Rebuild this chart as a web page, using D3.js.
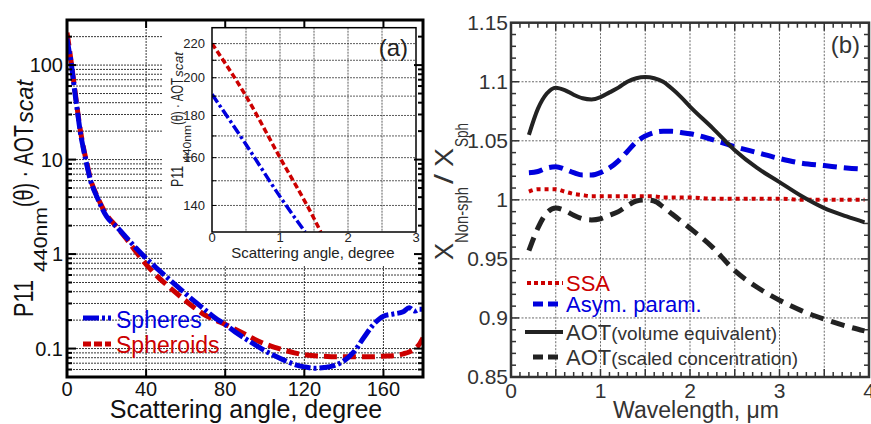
<!DOCTYPE html>
<html><head><meta charset="utf-8">
<script src="https://cdn.jsdelivr.net/npm/d3@7"></script>
<style>body{margin:0;background:#fff}svg{display:block;font-family:Arial,"Liberation Sans",sans-serif}</style>
</head><body><svg id="c" width="871" height="424"></svg>
<script>
// ---------- Panel (a) data ----------
const angles    = [0,1,2,3,4,5,6,7,8,10,12,15,20,25,30,35,40,45,50,55,60,65,70,75,80,85,90,95,100,105,110,115,120,125,130,135,140,145,150,155,160,165,170,173,176,178,180];
const spheres   = [191,143,110,75,51,36,25,18,14,8.8,5.9,4.1,2.5,1.95,1.5,1.15,0.9,0.72,0.58,0.47,0.38,0.31,0.255,0.21,0.18,0.15,0.128,0.11,0.095,0.084,0.075,0.068,0.064,0.062,0.063,0.066,0.074,0.092,0.13,0.18,0.22,0.232,0.245,0.27,0.25,0.26,0.26];
const spheroids = [220,160,112,78,54,37,26,19,14.5,9.2,6.1,4.2,2.6,1.95,1.45,1.05,0.78,0.6,0.48,0.39,0.32,0.265,0.225,0.2,0.18,0.16,0.142,0.125,0.112,0.103,0.096,0.09,0.086,0.084,0.083,0.082,0.082,0.082,0.082,0.082,0.083,0.084,0.088,0.092,0.1,0.11,0.13];
const xTicksA = [0,40,80,120,160];
const yTicksA = [0.1,1,10,100];
const yTickLabelsA = ["0.1","1","10","100"];
// inset
const insetAnglesSpheroids = [0,0.5,1,1.5,1.6];
const insetSpheroids       = [220,190,160,135,130];
const insetAnglesSpheres   = [0,0.5,1,1.37];
const insetSpheres         = [191,166,143.5,130];
const insetXTicks = [0,1,2,3];
const insetYTicks = [140,160,180,200,220];
const legendA = ["Spheres","Spheroids"];

// ---------- Panel (b) data ----------
const wavelength = [0.2,0.3,0.4,0.5,0.6,0.7,0.8,0.9,1.0,1.1,1.2,1.3,1.4,1.5,1.6,1.7,1.8,1.9,2.0,2.25,2.5,2.75,3.0,3.25,3.5,3.75,3.95];
const ssa       = [1.007,1.009,1.009,1.009,1.007,1.005,1.004,1.003,1.003,1.003,1.003,1.003,1.003,1.003,1.003,1.002,1.002,1.002,1.002,1.001,1.001,1.001,1.001,1.0,1.0,1.0,1.0];
const asym      = [1.023,1.024,1.027,1.028,1.026,1.023,1.021,1.021,1.023,1.027,1.033,1.041,1.049,1.054,1.057,1.058,1.058,1.057,1.056,1.051,1.045,1.040,1.035,1.031,1.029,1.027,1.026];
const aotVolume = [1.055,1.077,1.090,1.095,1.093,1.089,1.086,1.085,1.087,1.091,1.095,1.100,1.103,1.104,1.103,1.100,1.094,1.087,1.079,1.061,1.042,1.027,1.015,1.003,0.993,0.986,0.981];
const aotScaled = [0.957,0.976,0.989,0.993,0.991,0.987,0.984,0.983,0.984,0.987,0.990,0.995,0.999,1.000,0.999,0.994,0.988,0.982,0.976,0.960,0.940,0.926,0.915,0.906,0.899,0.893,0.889];
const xTicksB = [0,1,2,3,4];
const yTicksB = [0.85,0.9,0.95,1,1.05,1.1,1.15];
const yTickLabelsB = ["0.85","0.9","0.95","1","1.05","1.1","1.15"];

const svg = d3.select("#c");
const RED = "#cc0000", BLUE = "#0000dd", BLK = "#111", DK = "#222";

function rotSeg(g, txt, x, y, len, size, opts={}) {
  const t = g.append("text").attr("transform",`translate(${x},${y}) rotate(-90)`)
    .attr("font-size",size).attr("fill",opts.fill||BLK).text(txt);
  if (opts.italic) t.attr("font-style","italic");
  t.attr("textLength",len).attr("lengthAdjust","spacingAndGlyphs");
  return t;
}

// ================= Panel (a) =================
const xA = d3.scaleLinear().domain([0,180]).range([67,423]);
const yA = d3.scaleLog().domain([0.05,300]).range([377,20]);
const gA = svg.append("g");
gA.append("defs").append("clipPath").attr("id","clipA").append("rect")
  .attr("x",67).attr("y",20).attr("width",356).attr("height",357);

const logGrid = [];
[0.01,0.1,1,10,100].forEach(d=>{ for(let k=1;k<=9;k++){ const v=+(d*k).toPrecision(3); if(v>=0.05&&v<=300) logGrid.push(v);} });
gA.selectAll("line.hg").data(logGrid).join("line")
  .attr("x1",67).attr("x2",423).attr("y1",d=>yA(d)).attr("y2",d=>yA(d))
  .attr("stroke","#222").attr("stroke-width",0.9).attr("stroke-dasharray","2,1");
gA.selectAll("line.vg").data(xTicksA.slice(1)).join("line")
  .attr("x1",d=>xA(d)).attr("x2",d=>xA(d)).attr("y1",20).attr("y2",377)
  .attr("stroke","#222").attr("stroke-width",0.9).attr("stroke-dasharray","2,1");

const lineA = (ys)=>d3.line().x((d,i)=>xA(angles[i])).y(d=>yA(d)).curve(d3.curveMonotoneX)(ys);
gA.append("path").attr("clip-path","url(#clipA)").attr("d",lineA(spheroids))
  .attr("fill","none").attr("stroke",RED).attr("stroke-width",5).attr("stroke-dasharray","13,6");
gA.append("path").attr("clip-path","url(#clipA)").attr("d",lineA(spheres))
  .attr("fill","none").attr("stroke",BLUE).attr("stroke-width",5).attr("stroke-dasharray","16,3,3,3");

// inset white box
gA.append("rect").attr("x",163).attr("y",20).attr("width",260).attr("height",245).attr("fill","#fff");

// frame & ticks
gA.append("rect").attr("x",67).attr("y",20).attr("width",356).attr("height",357)
  .attr("fill","none").attr("stroke","#000").attr("stroke-width",3);
logGrid.forEach(v=>{
  const major = yTicksA.includes(v);
  const L = major?9:5;
  gA.append("line").attr("x1",67).attr("x2",67+L).attr("y1",yA(v)).attr("y2",yA(v)).attr("stroke","#000").attr("stroke-width",2);
  gA.append("line").attr("x1",423-L).attr("x2",423).attr("y1",yA(v)).attr("y2",yA(v)).attr("stroke","#000").attr("stroke-width",2);
});
xTicksA.slice(1).forEach(v=>{
  gA.append("line").attr("x1",xA(v)).attr("x2",xA(v)).attr("y1",377).attr("y2",369).attr("stroke","#000").attr("stroke-width",2);
  gA.append("line").attr("x1",xA(v)).attr("x2",xA(v)).attr("y1",20).attr("y2",28).attr("stroke","#000").attr("stroke-width",2);
});
gA.selectAll("text.yt").data(yTicksA).join("text")
  .attr("x",63).attr("y",d=>yA(d)).attr("dy","0.35em").attr("text-anchor","end")
  .attr("font-size",20).attr("fill",BLK).text((d,i)=>yTickLabelsA[i]);
gA.selectAll("text.xt").data(xTicksA).join("text")
  .attr("x",d=>xA(d)).attr("y",396).attr("text-anchor","middle")
  .attr("font-size",20).attr("fill",BLK).text(d=>d);
gA.append("text").attr("x",246).attr("y",418).attr("text-anchor","middle")
  .attr("font-size",25).attr("fill",BLK).text("Scattering angle, degree");

// y title (a)
rotSeg(gA,"P11",33,317,37,28);
rotSeg(gA,"440nm",47,272,65,19);
rotSeg(gA,"(θ) · AOT",33,207,82,28);
rotSeg(gA,"scat",33,123,43,23,{italic:true});

// legend (a)
gA.append("line").attr("x1",83).attr("x2",111).attr("y1",318).attr("y2",318)
  .attr("stroke",BLUE).attr("stroke-width",5).attr("stroke-dasharray","16,3,3,3");
gA.append("text").attr("x",116).attr("y",328).attr("font-size",23).attr("fill",BLUE).text(legendA[0]);
gA.append("line").attr("x1",83).attr("x2",111).attr("y1",344).attr("y2",344)
  .attr("stroke",RED).attr("stroke-width",5).attr("stroke-dasharray","8,3");
gA.append("text").attr("x",116).attr("y",353).attr("font-size",23).attr("fill",RED).text(legendA[1]);

// ---------- inset ----------
const xI = d3.scaleLinear().domain([0,3]).range([212,416]);
const yI = d3.scaleLog().domain([130,230]).range([232,27.7]);
const gI = svg.append("g");
gI.append("defs").append("clipPath").attr("id","clipI").append("rect")
  .attr("x",212).attr("y",27.7).attr("width",204).attr("height",204.3);
const insetGridY = d3.range(140,230,10);
gI.selectAll("line.h").data(insetGridY).join("line")
  .attr("x1",212).attr("x2",416).attr("y1",d=>yI(d)).attr("y2",d=>yI(d))
  .attr("stroke","#333").attr("stroke-width",0.8).attr("stroke-dasharray","2,1");
gI.selectAll("line.v").data([0.5,1,1.5,2,2.5]).join("line")
  .attr("x1",d=>xI(d)).attr("x2",d=>xI(d)).attr("y1",27.7).attr("y2",232)
  .attr("stroke","#333").attr("stroke-width",0.8).attr("stroke-dasharray","2,1");
const lineI = (xs,ys)=>d3.line().x((d,i)=>xI(xs[i])).y(d=>yI(d)).curve(d3.curveMonotoneX)(ys);
gI.append("path").attr("clip-path","url(#clipI)").attr("d",lineI(insetAnglesSpheroids,insetSpheroids))
  .attr("fill","none").attr("stroke",RED).attr("stroke-width",3.5).attr("stroke-dasharray","6,3");
gI.append("path").attr("clip-path","url(#clipI)").attr("d",lineI(insetAnglesSpheres,insetSpheres))
  .attr("fill","none").attr("stroke",BLUE).attr("stroke-width",3.5).attr("stroke-dasharray","10,3,3,3");
gI.append("rect").attr("x",212).attr("y",27.7).attr("width",204).attr("height",204.3)
  .attr("fill","none").attr("stroke","#000").attr("stroke-width",1.5);
insetGridY.forEach(v=>{
  gI.append("line").attr("x1",212).attr("x2",216).attr("y1",yI(v)).attr("y2",yI(v)).attr("stroke","#000").attr("stroke-width",1);
});
gI.selectAll("text.yt").data(insetYTicks).join("text")
  .attr("x",205).attr("y",d=>yI(d)).attr("dy","0.35em").attr("text-anchor","end")
  .attr("font-size",13).attr("fill","#222").text(d=>d);
gI.selectAll("text.xt").data(insetXTicks).join("text")
  .attr("x",d=>xI(d)).attr("y",242).attr("text-anchor","middle")
  .attr("font-size",13).attr("fill","#222").text(d=>d);
gI.append("text").attr("x",313).attr("y",258).attr("text-anchor","middle")
  .attr("font-size",15).attr("fill","#222").text("Scattering angle, degree");
rotSeg(gI,"P11",183,187,21,16,{fill:"#222"});
rotSeg(gI,"440nm",191,162,37,11,{fill:"#222"});
rotSeg(gI,"(θ) · AOT",183,125,47,16,{fill:"#222"});
rotSeg(gI,"scat",183,77,25,13,{fill:"#222",italic:true});
gI.append("text").attr("x",408).attr("y",56).attr("text-anchor","end").attr("font-size",24).attr("fill","#222").text("(a)");

// ================= Panel (b) =================
const xB = d3.scaleLinear().domain([0,4]).range([511,869]);
const yB = d3.scaleLinear().domain([0.85,1.15]).range([377,22.7]);
const gB = svg.append("g");
gB.selectAll("line.v").data([0.5,1,1.5,2,2.5,3,3.5]).join("line")
  .attr("x1",d=>xB(d)).attr("x2",d=>xB(d)).attr("y1",22.7).attr("y2",377)
  .attr("stroke","#444").attr("stroke-width",0.8).attr("stroke-dasharray","2,1.5");
gB.selectAll("line.h").data([0.9,0.95,1,1.05,1.1]).join("line")
  .attr("x1",511).attr("x2",869).attr("y1",d=>yB(d)).attr("y2",d=>yB(d))
  .attr("stroke","#444").attr("stroke-width",0.8).attr("stroke-dasharray","2,1.5");

const lineB = (ys)=>d3.line().x((d,i)=>xB(wavelength[i])).y(d=>yB(d)).curve(d3.curveMonotoneX)(ys);
gB.append("path").attr("d",lineB(ssa)).attr("fill","none").attr("stroke",RED).attr("stroke-width",4).attr("stroke-dasharray","4,4");
gB.append("path").attr("d",lineB(asym)).attr("fill","none").attr("stroke",BLUE).attr("stroke-width",5).attr("stroke-dasharray","14,7");
gB.append("path").attr("d",lineB(aotVolume)).attr("fill","none").attr("stroke",DK).attr("stroke-width",4);
gB.append("path").attr("d",lineB(aotScaled)).attr("fill","none").attr("stroke",DK).attr("stroke-width",5).attr("stroke-dasharray","14,8");

gB.append("rect").attr("x",511).attr("y",22.7).attr("width",358).attr("height",354.3)
  .attr("fill","none").attr("stroke","#333").attr("stroke-width",2.5);
d3.range(0,31).forEach(k=>{
  const v = 0.85+k*0.01, y = yB(v), L = (k%5===0)?8:5;
  gB.append("line").attr("x1",511).attr("x2",511+L).attr("y1",y).attr("y2",y).attr("stroke","#333").attr("stroke-width",1.5);
  gB.append("line").attr("x1",869-L).attr("x2",869).attr("y1",y).attr("y2",y).attr("stroke","#333").attr("stroke-width",1.5);
});
d3.range(0,41).forEach(k=>{
  const x = xB(k*0.1), L = (k%5===0)?8:5;
  gB.append("line").attr("x1",x).attr("x2",x).attr("y1",377).attr("y2",377-L).attr("stroke","#333").attr("stroke-width",1.5);
  gB.append("line").attr("x1",x).attr("x2",x).attr("y1",22.7).attr("y2",22.7+L).attr("stroke","#333").attr("stroke-width",1.5);
});
gB.selectAll("text.yt").data(yTicksB).join("text")
  .attr("x",508).attr("y",d=>yB(d)).attr("dy","0.35em").attr("text-anchor","end")
  .attr("font-size",21).attr("fill","#333").text((d,i)=>yTickLabelsB[i]);
gB.selectAll("text.xt").data(xTicksB).join("text")
  .attr("x",d=>xB(d)).attr("y",398).attr("text-anchor","middle")
  .attr("font-size",21).attr("fill","#333").text(d=>d);
gB.append("text").attr("x",696).attr("y",418).attr("text-anchor","middle")
  .attr("font-size",23).attr("fill","#333").text("Wavelength, μm");
gB.append("text").attr("x",860).attr("y",53).attr("text-anchor","end").attr("font-size",24).attr("fill","#333").text("(b)");

// y title (b)
rotSeg(gB,"X",453,260,17,25,{fill:"#333"});
rotSeg(gB,"Non-sph",468,243,56,18,{fill:"#333"});
rotSeg(gB,"/",453,184,10,25,{fill:"#333"});
rotSeg(gB,"X",453,167,19,25,{fill:"#333"});
rotSeg(gB,"Sph",468,147,24,18,{fill:"#333"});

// legend (b)
const legB = [
  {y:283, x1:527, stroke:RED, w:4, dash:"4,3", label:"SSA", small:null, fill:RED},
  {y:304, x1:533, stroke:BLUE, w:5, dash:"10,5", label:"Asym. param.", small:null, fill:BLUE},
  {y:332, x1:525, stroke:DK, w:4, dash:null, label:"AOT", small:"(volume equivalent)", fill:"#333"},
  {y:357, x1:533, stroke:DK, w:5, dash:"10,5", label:"AOT", small:"(scaled concentration)", fill:"#333"}
];
legB.forEach(d=>{
  const l = gB.append("line").attr("x1",d.x1).attr("x2",563).attr("y1",d.y).attr("y2",d.y)
    .attr("stroke",d.stroke).attr("stroke-width",d.w);
  if (d.dash) l.attr("stroke-dasharray",d.dash);
  const t = gB.append("text").attr("x",566).attr("y",d.y+8).attr("font-size",22).attr("fill",d.fill);
  t.append("tspan").text(d.label);
  if (d.small) t.append("tspan").attr("font-size",19).text(d.small);
});
</script></body></html>
